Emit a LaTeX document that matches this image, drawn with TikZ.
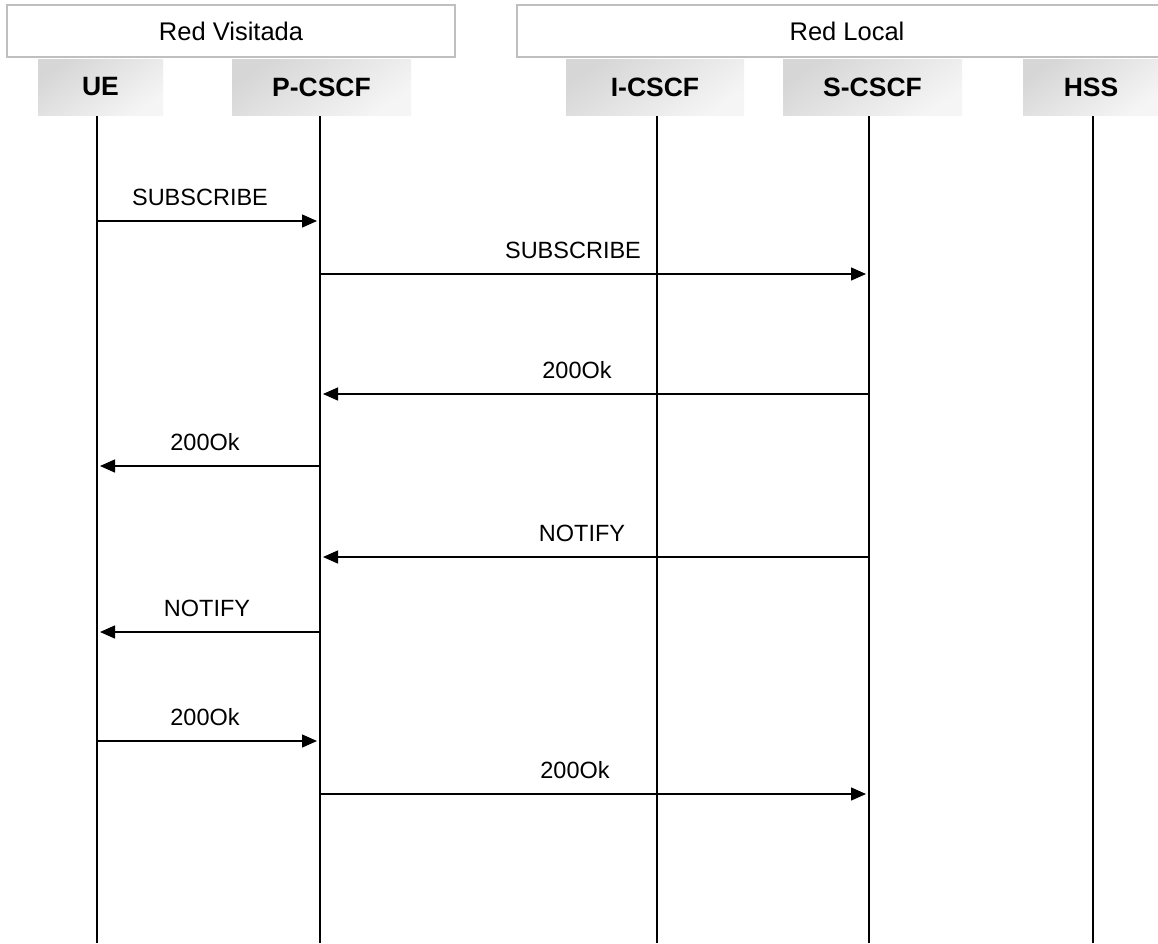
\documentclass[tikz,border=0pt]{standalone}
\usepackage{fontspec}
\setmainfont{Liberation Sans}
\usetikzlibrary{arrows.meta}
\definecolor{hdrdark}{HTML}{D6D6D6}
\definecolor{hdrlight}{HTML}{F5F5F5}
\definecolor{netborder}{HTML}{BFBFBF}
\tikzset{
  netbox/.style={draw=netborder, line width=2pt, fill=white, minimum height=52pt, inner sep=0pt, font=\fontsize{25.5}{30}\selectfont},
  entbox/.style={top color=hdrdark, bottom color=hdrlight, shading angle=35, minimum height=56pt, inner sep=0pt, font=\fontsize{26.5}{31}\selectfont\bfseries},
  lifeline/.style={line width=1.6pt, black},
  msgarrow/.style={line width=1.4pt, -{Triangle[length=15pt,width=13pt]}, shorten >=3pt},
  msglabel/.style={font=\fontsize{23.5}{28}\selectfont, inner sep=0pt}
}
\newcommand\msgline[5]{%
  \coordinate (#2s#1) at (#2 |- 0,#1);
  \coordinate (#3e#1) at (#3 |- 0,#1);
  \draw[msgarrow] (#2s#1) -- (#3e#1);
  \node[msglabel] (lbl#1) at (#5,#1-24) {#4};
}
\begin{document}
\begin{tikzpicture}[x=1pt,y=-1pt]
\useasboundingbox (0,0) rectangle (1158,943);
\fill[white] (0,0) rectangle (1158,943);
\begin{scope}
\clip (0,0) rectangle (1158,943);
\node[netbox, minimum width=448pt] (visitada) at (231,31) {Red Visitada};
\node[netbox, minimum width=660pt] (local) at (847,31) {Red Local};
\node[entbox, minimum width=125pt] (UEb) at (100.5,87) {UE};
\node[entbox, minimum width=179pt] (Pb) at (321.5,87) {P-CSCF};
\node[entbox, minimum width=178pt] (Ib) at (655,87) {I-CSCF};
\node[entbox, minimum width=179pt] (Sb) at (872.5,87) {S-CSCF};
\node[entbox, minimum width=136pt] (Hb) at (1091,87) {HSS};
\end{scope}
\coordinate (ue) at (97,116);
\coordinate (pc) at (320,116);
\coordinate (ic) at (657,116);
\coordinate (sc) at (869,116);
\coordinate (hs) at (1093,116);
\coordinate (ueB) at (97,943);
\coordinate (pcB) at (320,943);
\coordinate (icB) at (657,943);
\coordinate (scB) at (869,943);
\coordinate (hsB) at (1093,943);
\draw[lifeline] (ue) -- (ueB);
\draw[lifeline] (pc) -- (pcB);
\draw[lifeline] (ic) -- (icB);
\draw[lifeline] (sc) -- (scB);
\draw[lifeline] (hs) -- (hsB);
\msgline{221}{ue}{pc}{SUBSCRIBE}{200}
\msgline{274}{pc}{sc}{SUBSCRIBE}{573}
\msgline{394}{sc}{pc}{200Ok}{577}
\msgline{466}{pc}{ue}{200Ok}{205}
\msgline{557}{sc}{pc}{NOTIFY}{582}
\msgline{632}{pc}{ue}{NOTIFY}{207}
\msgline{741}{ue}{pc}{200Ok}{205}
\msgline{794}{pc}{sc}{200Ok}{575}
\end{tikzpicture}
\end{document}
